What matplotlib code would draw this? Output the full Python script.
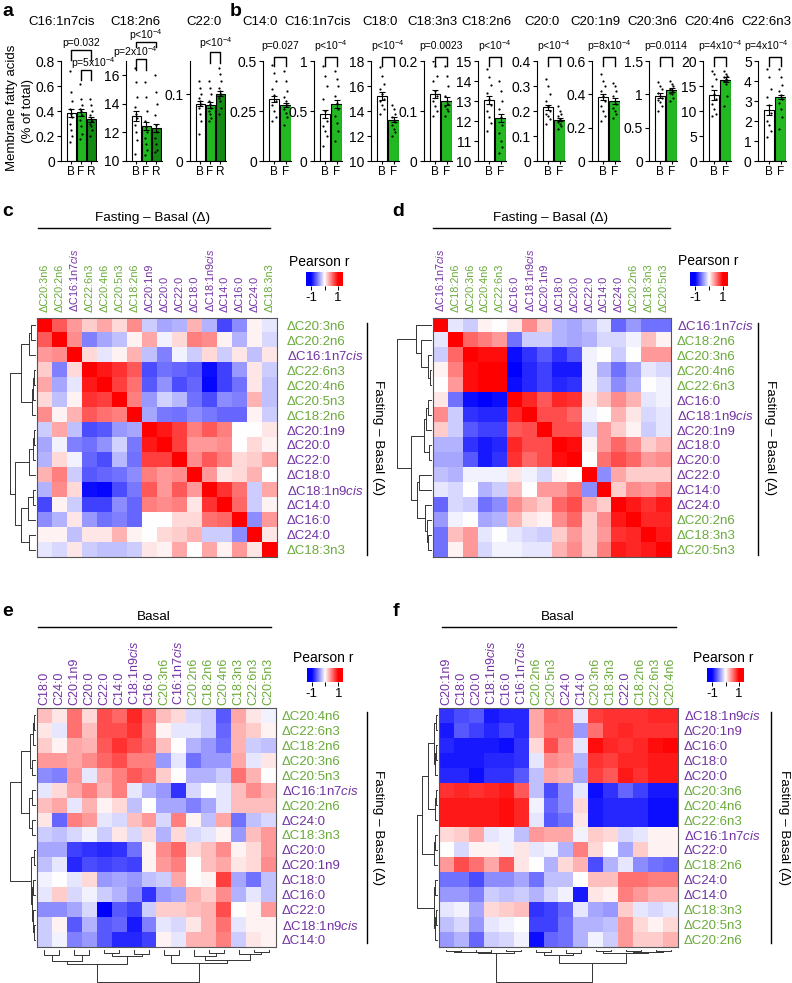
import numpy as np
import matplotlib
matplotlib.use('Agg')
import matplotlib.pyplot as plt
import matplotlib.transforms as mtransforms
from matplotlib.colors import LinearSegmentedColormap

plt.rcParams['font.family'] = ['Liberation Sans', 'DejaVu Sans']
plt.rcParams['mathtext.fontset'] = 'custom'
plt.rcParams['mathtext.rm'] = 'Liberation Sans'
plt.rcParams['mathtext.it'] = 'Liberation Sans:italic'
plt.rcParams['mathtext.bf'] = 'Liberation Sans:bold'

# ---------------- data: panel a (B, F, R) ----------------
a_names = ['C16:1n7cis', 'C18:2n6', 'C22:0']
a_means = [[0.385, 0.39, 0.335], [13.15, 12.45, 12.3], [0.086, 0.084, 0.101]]
a_sems = [[0.03, 0.03, 0.02], [0.35, 0.3, 0.3], [0.004, 0.004, 0.004]]
a_pts = [
    [[0.72, 0.55, 0.48, 0.42, 0.38, 0.35, 0.3, 0.25, 0.2, 0.15],
     [0.62, 0.5, 0.45, 0.42, 0.4, 0.37, 0.33, 0.28, 0.22, 0.18],
     [0.5, 0.45, 0.4, 0.37, 0.34, 0.32, 0.3, 0.28, 0.25, 0.2]],
    [[16.5, 15.5, 14.5, 13.8, 13.3, 13.0, 12.5, 12.0, 11.5, 10.5],
     [15.5, 14.5, 13.5, 12.8, 12.4, 12.0, 11.6, 11.2, 10.8, 10.4],
     [16.0, 14.8, 14.0, 13.2, 12.5, 12.0, 11.6, 11.2, 10.8, 10.6]],
    [[0.12, 0.11, 0.1, 0.095, 0.09, 0.085, 0.08, 0.07, 0.06, 0.04],
     [0.12, 0.11, 0.1, 0.09, 0.085, 0.08, 0.075, 0.07, 0.065, 0.06],
     [0.14, 0.13, 0.12, 0.11, 0.105, 0.1, 0.095, 0.09, 0.08, 0.07]],
]
a_ylims = [(0, 0.8), (10, 17), (0, 0.15)]
a_yticks = [[0, 0.2, 0.4, 0.6, 0.8], [10, 12, 14, 16], [0, 0.1]]
a_yticklabels = [['0', '0.2', '0.4', '0.6', '0.8'], ['10', '12', '14', '16'], ['0', '0.1']]

# ---------------- data: panel b (B, F) ----------------
b_names = ['C14:0', 'C16:1n7cis', 'C18:0', 'C18:3n3', 'C18:2n6',
           'C20:0', 'C20:1n9', 'C20:3n6', 'C20:4n6', 'C22:6n3']
b_means = [[0.31, 0.28], [0.47, 0.57], [15.2, 13.3], [0.135, 0.12], [13.05, 12.15],
           [0.215, 0.165], [0.385, 0.36], [0.98, 1.06], [13.2, 16.3], [2.55, 3.2]]
b_sems = [[0.015, 0.012], [0.04, 0.04], [0.3, 0.2], [0.008, 0.008], [0.2, 0.2],
          [0.01, 0.006], [0.02, 0.02], [0.04, 0.03], [1.0, 0.5], [0.25, 0.12]]
b_pts = [
    [[0.48, 0.44, 0.4, 0.36, 0.33, 0.3, 0.28, 0.25, 0.22, 0.2],
     [0.45, 0.4, 0.35, 0.32, 0.3, 0.28, 0.26, 0.24, 0.22, 0.18]],
    [[0.95, 0.85, 0.75, 0.62, 0.5, 0.4, 0.35, 0.3, 0.25, 0.15],
     [0.9, 0.82, 0.75, 0.65, 0.58, 0.52, 0.45, 0.38, 0.3, 0.2]],
    [[17.5, 16.8, 16.2, 15.8, 15.4, 15.0, 14.8, 14.5, 14.2, 13.8],
     [14.5, 14.2, 13.8, 13.5, 13.3, 13.1, 12.9, 12.6, 12.3, 12.0]],
    [[0.2, 0.19, 0.17, 0.16, 0.14, 0.13, 0.12, 0.11, 0.1, 0.09],
     [0.19, 0.17, 0.15, 0.13, 0.12, 0.115, 0.11, 0.105, 0.1, 0.09]],
    [[14.6, 14.2, 13.8, 13.4, 13.1, 12.8, 12.5, 12.2, 11.9, 11.5],
     [14.0, 13.5, 13.0, 12.6, 12.2, 11.8, 11.4, 11.0, 10.7, 10.4]],
    [[0.33, 0.3, 0.27, 0.24, 0.22, 0.2, 0.19, 0.18, 0.17, 0.15],
     [0.22, 0.2, 0.19, 0.18, 0.17, 0.16, 0.155, 0.15, 0.14, 0.13]],
    [[0.52, 0.48, 0.45, 0.42, 0.39, 0.36, 0.33, 0.3, 0.27, 0.24],
     [0.47, 0.45, 0.42, 0.39, 0.36, 0.34, 0.32, 0.3, 0.28, 0.26]],
    [[1.18, 1.12, 1.08, 1.02, 0.98, 0.95, 0.92, 0.88, 0.82, 0.75],
     [1.2, 1.15, 1.12, 1.08, 1.06, 1.04, 1.02, 1.0, 0.95, 0.9]],
    [[18, 17.5, 16.5, 15, 13.5, 12.5, 11.5, 10.5, 9.5, 9],
     [18, 17.5, 17, 16.8, 16.5, 16.2, 16, 15.5, 13, 11]],
    [[4.6, 4.2, 3.6, 3.2, 2.8, 2.4, 2.0, 1.8, 1.5, 1.2],
     [4.6, 4.2, 3.8, 3.5, 3.3, 3.1, 2.9, 2.6, 2.2, 1.6]],
]
b_ylims = [(0, 0.5), (0, 1), (10, 18), (0, 0.2), (10, 15), (0, 0.4), (0, 0.6), (0, 1.5), (0, 20), (0, 5)]
b_yticks = [[0, 0.25, 0.5], [0, 0.5, 1], [10, 12, 14, 16, 18], [0, 0.1, 0.2], [10, 11, 12, 13, 14, 15],
            [0, 0.1, 0.2, 0.3, 0.4], [0, 0.2, 0.4, 0.6], [0, 0.5, 1, 1.5], [0, 5, 10, 15, 20], [0, 1, 2, 3, 4, 5]]
b_pvals = ['p=0.027', r'p<10$^{-4}$', r'p<10$^{-4}$', 'p=0.0023', r'p<10$^{-4}$',
           r'p<10$^{-4}$', r'p=8x10$^{-4}$', 'p=0.0114', r'p=4x10$^{-4}$', r'p=4x10$^{-4}$']

# ---------------- data: correlation heatmaps ----------------
c_order = ['C20:3n6', 'C20:2n6', 'C16:1n7cis', 'C22:6n3', 'C20:4n6', 'C20:5n3', 'C18:2n6', 'C20:1n9',
           'C20:0', 'C22:0', 'C18:0', 'C18:1n9cis', 'C14:0', 'C16:0', 'C24:0', 'C18:3n3']
c_vals = [
    [1, 0.65, 0.4, 0.2, 0.35, 0.15, 0.45, -0.2, -0.35, -0.3, 0.3, -0.3, -0.72, -0.45, 0.05, -0.1],
    [0.65, 1, 0.45, -0.5, -0.35, -0.25, 0.05, 0.35, -0.05, 0.15, 0.5, 0.45, 0.05, -0.3, 0.05, -0.15],
    [0.4, 0.45, 1, 0.15, -0.1, 0.05, 0.3, -0.25, -0.5, -0.05, -0.2, 0.15, -0.2, 0.1, -0.25, 0.1],
    [0.2, -0.5, 0.15, 1, 0.9, 0.8, 0.65, -0.7, -0.5, -0.6, -0.65, -0.95, -0.75, -0.4, 0.1, -0.2],
    [0.35, -0.35, -0.1, 0.9, 1, 0.75, 0.55, -0.65, -0.4, -0.7, -0.6, -1.0, -0.75, -0.55, 0.1, -0.25],
    [0.15, -0.25, 0.05, 0.8, 0.75, 1, 0.5, -0.4, -0.2, -0.25, -0.55, -0.7, -0.45, -0.5, 0.3, -0.25],
    [0.45, 0.05, 0.3, 0.65, 0.55, 0.5, 1, -0.35, -0.5, -0.5, -0.45, -0.5, -0.6, -0.6, 0.05, -0.2],
    [-0.2, 0.35, -0.25, -0.7, -0.65, -0.4, -0.35, 1, 0.9, 0.75, 0.5, 0.65, 0.5, 0.0, 0.0, 0.1],
    [-0.35, -0.05, -0.5, -0.6, -0.45, -0.15, -0.55, 0.9, 1, 0.75, 0.4, 0.4, 0.45, 0.0, 0.15, 0.05],
    [-0.3, 0.15, -0.05, -0.6, -0.7, -0.3, -0.6, 0.75, 0.75, 1, 0.45, 0.65, 0.5, 0.15, 0.2, 0.35],
    [0.3, 0.5, -0.2, -0.65, -0.6, -0.55, -0.45, 0.5, 0.4, 0.45, 1, 0.4, 0.1, 0.15, 0.3, 0.0],
    [-0.3, 0.45, 0.15, -0.95, -0.95, -0.7, -0.55, 0.65, 0.4, 0.65, 0.4, 1, 0.8, 0.55, -0.2, 0.35],
    [-0.72, 0.05, -0.2, -0.75, -0.75, -0.45, -0.6, 0.5, 0.45, 0.5, 0.1, 0.8, 1, 0.6, -0.2, 0.05],
    [-0.45, -0.3, 0.1, -0.4, -0.55, -0.5, -0.6, 0.0, 0.0, 0.15, 0.15, 0.55, 0.6, 1, -0.45, 0.4],
    [0.05, 0.05, -0.25, 0.1, 0.1, 0.3, 0.05, 0.0, 0.15, 0.2, 0.3, -0.2, -0.2, -0.45, 1, 0.1],
    [-0.1, -0.15, 0.1, -0.2, -0.25, -0.25, -0.2, 0.1, 0.05, 0.35, 0.0, 0.35, 0.05, 0.4, 0.1, 1],
]

d_order = ['C16:1n7cis', 'C18:2n6', 'C20:3n6', 'C20:4n6', 'C22:6n3', 'C16:0', 'C18:1n9cis', 'C20:1n9',
           'C18:0', 'C20:0', 'C22:0', 'C14:0', 'C24:0', 'C20:2n6', 'C18:3n3', 'C20:5n3']
d_vals = [
    [1, -0.1, -0.2, 0.05, 0.0, 0.1, 0.45, 0.2, -0.3, -0.35, -0.25, -0.1, -0.6, -0.4, -0.55, -0.55],
    [-0.1, 1, 0.6, 0.5, 0.4, -0.55, -0.2, -0.2, -0.3, -0.35, -0.3, -0.15, -0.15, -0.05, 0.25, 0.05],
    [-0.2, 0.6, 1, 0.95, 0.95, -0.95, -0.8, -0.65, -0.8, -0.65, -0.05, 0.0, -0.2, 0.0, 0.4, 0.4],
    [0.05, 0.5, 0.95, 1, 1, -1, -0.85, -0.75, -0.9, -0.9, -0.05, -0.3, -0.55, -0.35, -0.1, -0.15],
    [0.0, 0.4, 0.95, 1, 1, -0.95, -0.85, -0.75, -0.85, -0.8, -0.05, -0.2, -0.45, -0.3, 0.0, -0.05],
    [0.1, -0.55, -0.95, -1, -0.95, 1, 0.85, 0.65, 0.85, 0.8, 0.1, 0.25, 0.45, 0.3, -0.1, -0.05],
    [0.45, -0.2, -0.8, -0.85, -0.85, 0.85, 1, 0.7, 0.7, 0.6, -0.05, 0.0, 0.3, 0.1, -0.15, -0.1],
    [0.2, -0.2, -0.65, -0.75, -0.75, 0.65, 0.7, 1, 0.7, 0.7, -0.15, 0.4, 0.2, 0.05, -0.2, -0.1],
    [-0.3, -0.3, -0.8, -0.9, -0.85, 0.85, 0.7, 0.7, 1, 0.95, 0.05, 0.4, 0.6, 0.45, 0.2, 0.3],
    [-0.35, -0.35, -0.65, -0.9, -0.8, 0.8, 0.6, 0.7, 0.95, 1, 0.0, 0.55, 0.7, 0.6, 0.4, 0.45],
    [-0.25, -0.3, -0.05, -0.05, -0.05, 0.1, -0.05, -0.15, 0.05, 0.0, 1, -0.45, 0.35, 0.2, 0.2, 0.2],
    [-0.1, -0.15, 0.0, -0.3, -0.2, 0.25, 0.0, 0.4, 0.4, 0.55, -0.45, 1, 0.2, 0.45, 0.4, 0.5],
    [-0.6, -0.15, -0.2, -0.55, -0.45, 0.45, 0.3, 0.2, 0.6, 0.7, 0.35, 0.2, 1, 0.9, 0.8, 0.9],
    [-0.4, -0.05, 0.0, -0.35, -0.3, 0.3, 0.1, 0.05, 0.45, 0.6, 0.2, 0.45, 0.9, 1, 0.85, 0.85],
    [-0.55, 0.25, 0.4, -0.1, 0.0, -0.1, -0.15, -0.2, 0.2, 0.4, 0.2, 0.4, 0.8, 0.85, 1, 0.9],
    [-0.55, 0.05, 0.4, -0.15, -0.05, -0.05, -0.1, -0.1, 0.3, 0.45, 0.2, 0.5, 0.9, 0.85, 0.9, 1],
]

e_rows = ['C20:4n6', 'C22:6n3', 'C18:2n6', 'C20:3n6', 'C20:5n3', 'C16:1n7cis', 'C20:2n6', 'C24:0',
          'C18:3n3', 'C20:0', 'C20:1n9', 'C18:0', 'C16:0', 'C22:0', 'C18:1n9cis', 'C14:0']
e_cols = ['C18:0', 'C24:0', 'C20:1n9', 'C20:0', 'C22:0', 'C14:0', 'C18:1n9cis', 'C16:0',
          'C20:3n6', 'C16:1n7cis', 'C20:2n6', 'C18:2n6', 'C20:4n6', 'C18:3n3', 'C22:6n3', 'C20:5n3']
e_vals = [
    [0.25, 0.1, 0.55, 0.15, 0.7, 0.6, 0.85, 0.6, 0.25, 0.15, -0.15, -0.2, -0.65, 0.35, 0.1, -0.05],
    [0.1, -0.1, 0.55, 0.25, 0.7, 0.7, 0.8, 0.55, 0.05, -0.1, -0.1, -0.2, -0.6, 0.3, 0.2, 0.05],
    [0.2, 0.05, 0.35, 0.3, 0.65, 0.8, 0.7, 0.6, 0.25, 0.0, -0.3, -0.4, -0.55, 0.3, -0.2, -0.25],
    [0.4, 0.4, 0.35, 0.45, 0.6, 0.7, 0.5, 0.5, -0.4, -0.1, -0.55, -0.4, -0.4, 0.35, -0.1, 0.1],
    [-0.45, -0.5, 0.4, -0.1, 0.35, 0.5, 0.65, 0.55, 0.2, 0.0, -0.3, -0.3, -0.2, 0.55, 0.3, 0.0],
    [-0.1, 0.15, 0.35, 0.5, 0.3, 0.5, -0.1, -0.3, -0.4, -0.8, -0.15, 0.0, -0.1, 0.25, 0.45, 0.3],
    [0.25, 0.35, -0.1, 0.3, 0.05, 0.15, -0.25, 0.0, -0.35, -0.35, -0.5, -0.35, -0.1, 0.25, 0.25, 0.25],
    [0.1, -0.6, 0.5, 0.4, -0.1, -0.15, 0.25, 0.4, -0.15, 0.5, 0.05, -0.25, 0.35, -0.55, -0.25, -0.15],
    [-0.2, -0.25, -0.15, -0.05, -0.2, 0.1, -0.15, 0.15, -0.3, 0.15, -0.15, -0.1, 0.05, -0.4, 0.25, 0.4],
    [-0.35, -0.35, -0.75, -0.8, -0.85, -0.8, -0.55, 0.05, 0.45, 0.6, 0.15, 0.25, 0.45, 0.05, 0.15, 0.4],
    [-0.25, -0.1, -0.85, -0.7, -0.75, -0.7, -0.75, 0.05, 0.4, 0.5, 0.0, 0.25, 0.35, 0.1, 0.15, 0.45],
    [-0.05, 0.0, -0.1, 0.15, -0.4, -0.35, -0.4, -0.25, -0.2, 0.35, 0.0, 0.05, 0.75, -0.35, -0.55, -0.25],
    [-0.1, 0.2, -0.15, -0.05, -0.2, -0.3, -0.45, -0.8, -0.4, -0.35, 0.3, 0.2, 0.45, -0.3, -0.1, -0.25],
    [-0.45, -0.45, -0.35, -0.15, -1.0, -0.65, -0.75, -0.2, 0.2, 0.2, 0.25, 0.3, 0.7, 0.0, 0.05, 0.4],
    [-0.2, 0.05, -0.65, -0.3, -0.65, -0.6, -0.9, -0.5, -0.1, -0.15, 0.1, 0.3, 0.55, -0.1, 0.05, 0.05],
    [-0.2, -0.05, -0.5, -0.4, -0.65, -0.85, -0.85, -0.75, 0.05, -0.1, 0.3, 0.3, 0.5, -0.2, 0.1, 0.05],
]

f_rows = ['C18:1n9cis', 'C20:1n9', 'C16:0', 'C18:0', 'C20:0', 'C20:3n6', 'C20:4n6', 'C22:6n3',
          'C16:1n7cis', 'C22:0', 'C18:2n6', 'C24:0', 'C14:0', 'C18:3n3', 'C20:5n3', 'C20:2n6']
f_cols = ['C20:1n9', 'C18:0', 'C20:0', 'C18:1n9cis', 'C16:0', 'C16:1n7cis', 'C20:2n6', 'C20:5n3',
          'C24:0', 'C14:0', 'C20:3n6', 'C18:3n3', 'C22:0', 'C18:2n6', 'C22:6n3', 'C20:4n6']
f_vals = [
    [-0.8, -0.7, -0.65, -0.9, -0.85, -0.85, 0.35, 0.6, 0.55, -0.1, 0.75, 0.8, 0.8, 0.8, 0.85, 0.85],
    [-0.9, -0.65, -0.75, -0.85, -0.75, -0.85, 0.35, 0.55, 0.55, -0.4, 0.55, 0.8, 0.85, 0.8, 0.8, 0.8],
    [-0.85, -0.9, -0.9, -0.9, -0.95, -0.8, 0.15, 0.7, 0.45, -0.1, 0.95, 0.85, 0.8, 0.85, 0.95, 0.98],
    [-0.9, -0.9, -0.9, -0.85, -0.85, -0.8, -0.1, 0.45, 0.4, -0.3, 0.8, 0.75, 0.85, 0.85, 0.9, 0.9],
    [-0.85, -0.85, -0.95, -0.8, -0.8, -0.65, -0.25, 0.35, 0.3, -0.35, 0.75, 0.65, 0.9, 0.8, 0.9, 0.9],
    [0.8, 0.85, 0.8, 0.85, 0.9, 0.65, -0.25, -0.7, -0.45, -0.1, -0.95, -0.8, -0.6, -0.75, -0.9, -0.9],
    [0.9, 0.9, 0.9, 0.9, 0.95, 0.85, -0.05, -0.6, -0.45, 0.15, -0.9, -0.85, -0.85, -0.85, -0.95, -0.95],
    [0.9, 0.9, 0.9, 0.9, 0.95, 0.85, -0.1, -0.65, -0.55, 0.1, -0.9, -0.85, -0.85, -0.85, -0.95, -0.95],
    [0.15, 0.2, 0.35, -0.1, -0.05, -0.25, 0.4, 0.35, 0.35, -0.05, 0.2, 0.15, -0.15, -0.1, 0.05, 0.05],
    [0.0, -0.15, 0.05, 0.05, -0.05, 0.1, -0.1, -0.05, -0.3, 0.5, 0.15, 0.0, -0.35, 0.2, 0.05, 0.05],
    [0.4, 0.7, 0.55, 0.35, 0.65, 0.1, 0.0, -0.3, 0.15, 0.3, -0.7, -0.3, -0.1, -0.45, -0.55, -0.6],
    [-0.55, -0.55, -0.7, -0.45, -0.45, -0.35, -0.55, -0.25, -0.25, 0.0, 0.25, 0.25, 0.55, 0.55, 0.5, 0.5],
    [-0.4, -0.4, -0.5, -0.2, -0.25, -0.2, -0.3, -0.15, -0.05, -0.9, 0.1, 0.05, 0.5, 0.4, 0.3, 0.3],
    [-0.1, -0.05, -0.35, 0.15, 0.2, 0.25, -0.8, -0.75, -0.6, -0.1, -0.35, -0.4, 0.2, -0.1, -0.15, -0.1],
    [-0.25, -0.15, -0.4, -0.1, -0.05, 0.0, -0.75, -0.75, -0.55, -0.3, -0.3, -0.25, 0.4, 0.15, 0.05, 0.15],
    [-0.4, -0.3, -0.6, -0.2, -0.15, -0.05, -0.95, -0.6, -0.55, -0.3, -0.05, -0.2, 0.4, 0.2, 0.2, 0.3],
]

# dendrogram trees: (left, right, height), leaves = display index
c_tree = ((((0, 1, .15), 2, .26), (((3, 4, .05), 5, .08), 6, .11), .55),
          ((((7, 8, .06), 9, .1), 10, .25), (((11, 12, .1), 13, .3), (14, 15, .26), .55), .8), 1.0)
d_tree = ((0, (1, (2, (3, 4, .03), .08), .3), .45),
          ((((5, 6, .1), 7, .15), (8, 9, .05), .22), ((10, 11, .35), (12, (13, (14, 15, .08), .12), .18), .4), .58), 1.0)
e_row_tree = (((((0, 1, .03), 2, .08), (3, 4, .12), .22), ((5, 6, .12), (7, 8, .12), .25), .55),
              ((9, 10, .05), ((11, 12, .08), (13, (14, 15, .05), .09), .12), .15), 1.0)
e_col_tree = ((((0, 1, .15), (2, 3, .15), .35), ((4, 5, .1), (6, 7, .12), .2), .45),
              ((8, 9, .15), ((10, (11, 12, .1), .2), (13, (14, 15, .05), .12), .3), .4), 1.0)
f_row_tree = (((((0, 1, .05), ((2, 3, .05), 4, .08), .15), ((5, 6, .05), 7, .08), .45), ((8, 9, .1), 10, .15), .77),
              ((11, 12, .1), ((13, 14, .05), 15, .08), .15), 1.0)
f_col_tree = (((((0, 1, .03), 2, .05), 3, .06), (4, 5, .04), .08),
              (((6, 7, .05), (8, 9, .1), .15), ((10, 11, .04), ((12, 13, .03), (14, 15, .02), .05), .1), .42), 1.0)

# ---------------- helpers ----------------
W, H = 792, 983
fig = plt.figure(figsize=(W / 100, H / 100), dpi=100)

GREEN_T = '#6aaa3a'
PURPLE_T = '#7232a3'
bar_cols = ['white', '#22b822', '#138a13']
cmap = LinearSegmentedColormap.from_list('bwr2', ['#0000ff', '#ffffff', '#ff0000'])


def rect(x0, y0, x1, y1):
    return [x0 / W, 1 - y1 / H, (x1 - x0) / W, (y1 - y0) / H]


def ftext(x, y, s, **kw):
    fig.text(x / W, 1 - y / H, s, **kw)


def fline(xs, ys, lw=1.0):
    fig.add_artist(plt.Line2D([x / W for x in xs], [1 - y / H for y in ys],
                              transform=fig.transFigure, color='black', lw=lw))


def bar_panel(left, width, means, sems, pts, ylim, yticks, yticklabels, xlabels, xlim):
    ax = fig.add_axes(rect(left, 61, left + width, 161))
    n = len(means)
    x = np.arange(n)
    ax.bar(x, means, width=0.9, color=bar_cols[:n], edgecolor='black', linewidth=0.8, zorder=1)
    for i in range(n):
        offs = (np.arange(len(pts[i])) % 3 - 1) * 0.14
        ax.scatter(x[i] + offs, pts[i], s=2.5, color='black', zorder=3, linewidths=0)
    ax.errorbar(x, means, yerr=sems, fmt='none', ecolor='black', elinewidth=0.8,
                capsize=2.5, capthick=0.8, zorder=4)
    ax.set_xlim(*xlim)
    ax.set_ylim(*ylim)
    ax.set_yticks(yticks)
    ax.set_yticklabels(yticklabels if yticklabels else [('%g' % t) for t in yticks], fontsize=10)
    ax.set_xticks(x)
    ax.set_xticklabels(xlabels, fontsize=8.5)
    ax.tick_params(axis='y', length=3, width=0.8, pad=1.5)
    ax.tick_params(axis='x', length=2, width=0.8, pad=1.5)
    for s in ['top', 'right']:
        ax.spines[s].set_visible(False)
    for s in ['left', 'bottom']:
        ax.spines[s].set_linewidth(0.8)
    return ax


def bracket(ax, i, j, ytop, yleg, text, ytext, xtext=None, fs=7.5):
    tr = mtransforms.blended_transform_factory(ax.transData, ax.transAxes)
    ax.plot([i, i, j, j], [yleg, ytop, ytop, yleg], color='black', lw=1.0,
            transform=tr, clip_on=False)
    ax.text((i + j) / 2 if xtext is None else xtext, ytext, text, transform=tr,
            ha='center', va='center', fontsize=fs)


def fmt(name, delta):
    s = name.replace('cis', r'$\mathit{cis}$')
    return ('Δ' + s) if delta else s


def tcolor(name):
    return GREEN_T if ('n3' in name or 'n6' in name) else PURPLE_T


def heatmap(box, M, rows, cols, col_delta, col_fs, col_pad, row_pad):
    ax = fig.add_axes(rect(*box))
    ax.imshow(np.array(M), cmap=cmap, vmin=-1, vmax=1, aspect='auto', interpolation='nearest')
    ax.set_xticks(range(len(cols)))
    ax.set_xticklabels([fmt(c, col_delta) for c in cols], rotation=90, fontsize=col_fs)
    ax.xaxis.tick_top()
    ax.set_yticks(range(len(rows)))
    ax.set_yticklabels([fmt(r, True) for r in rows], fontsize=9.5)
    ax.yaxis.tick_right()
    ax.tick_params(axis='x', length=0, pad=col_pad)
    ax.tick_params(axis='y', length=0, pad=row_pad)
    for lab, nm in zip(ax.get_xticklabels(), cols):
        lab.set_color(tcolor(nm))
    for lab, nm in zip(ax.get_yticklabels(), rows):
        lab.set_color(tcolor(nm))
    for s in ax.spines.values():
        s.set_linewidth(0.8)
        s.set_color('#555555')
    return ax


def draw_tree(ax, node, orient):
    if isinstance(node, int):
        return float(node), 0.0
    a, b, h = node
    pa, ha = draw_tree(ax, a, orient)
    pb, hb = draw_tree(ax, b, orient)
    if orient == 'left':
        ax.plot([ha, h, h, hb], [pa, pa, pb, pb], color='#333333', lw=0.7, clip_on=False)
    else:
        ax.plot([pa, pa, pb, pb], [ha, h, h, hb], color='#333333', lw=0.7, clip_on=False)
    return (pa + pb) / 2, h


def row_dendro(box, tree):
    ax = fig.add_axes(rect(*box))
    draw_tree(ax, tree, 'left')
    ax.set_xlim(1.0, 0.0)
    ax.set_ylim(15.5, -0.5)
    ax.axis('off')


def col_dendro(box, tree):
    ax = fig.add_axes(rect(*box))
    draw_tree(ax, tree, 'bottom')
    ax.set_xlim(-0.5, 15.5)
    ax.set_ylim(1.0, 0.0)
    ax.axis('off')


def colorbar(box, tx, ty):
    ax = fig.add_axes(rect(*box))
    grad = np.linspace(-1.36, 1.36, 256)[None, :]
    ax.imshow(grad, cmap=cmap, vmin=-1, vmax=1, aspect='auto', extent=(-1.36, 1.36, 0, 1))
    ax.set_xticks([-1, 0, 1])
    ax.set_xticklabels(['-1', '', '1'], fontsize=9.5)
    ax.set_yticks([])
    ax.tick_params(axis='x', length=3, width=0.7, pad=1)
    for s in ax.spines.values():
        s.set_visible(False)
    ftext(tx, ty, 'Pearson r', ha='center', va='center', fontsize=10)


# ---------------- panel a ----------------
a_left = [61, 126, 190]
a_axes = []
for k in range(3):
    ax = bar_panel(a_left[k], 36, a_means[k], a_sems[k], a_pts[k], a_ylims[k], a_yticks[k],
                   a_yticklabels[k], ['B', 'F', 'R'], (-1.0, 2.6))
    a_axes.append(ax)
ftext(62, 22, 'C16:1n7cis', ha='center', va='center', fontsize=9.5)
ftext(135, 22, 'C18:2n6', ha='center', va='center', fontsize=9.5)
ftext(204, 22, 'C22:0', ha='center', va='center', fontsize=9.5)
bracket(a_axes[0], 0, 2, 1.11, 1.01, 'p=0.032', 1.18)
bracket(a_axes[0], 1, 2, 0.91, 0.81, r'p=5x10$^{-4}$', 0.98, xtext=2.2)
bracket(a_axes[1], 0, 2, 1.19, 1.14, r'p<10$^{-4}$', 1.26, xtext=1.0)
bracket(a_axes[1], 0, 1, 1.02, 0.91, r'p=2x10$^{-4}$', 1.09, xtext=-0.1)
bracket(a_axes[2], 1, 2, 1.09, 0.98, r'p<10$^{-4}$', 1.18, xtext=1.6)
ftext(12, 108, 'Membrane fatty acids', rotation=90, ha='center', va='center', fontsize=9.5)
ftext(28, 111, '(% of total)', rotation=90, ha='center', va='center', fontsize=9.5)

# ---------------- panel b ----------------
b_left = [263, 314, 371, 424, 478, 537, 592, 649, 703, 758]
b_title_x = [260, 318, 380, 432, 486, 542, 595, 652, 709, 766]
b_ptext_x = [None] * 9 + [-0.2]
for k in range(10):
    ax = bar_panel(b_left[k], 28, b_means[k], b_sems[k], b_pts[k], b_ylims[k], b_yticks[k],
                   None, ['B', 'F'], (-0.94, 1.45))
    bracket(ax, 0, 1, 1.04, 0.95, b_pvals[k], 1.15, xtext=b_ptext_x[k])
    ftext(b_title_x[k], 22, b_names[k], ha='center', va='center', fontsize=9.5)

# ---------------- panel labels ----------------
for lab, x, y in [('a', 2, 12), ('b', 230, 12), ('c', 2, 212), ('d', 392, 212), ('e', 2, 612), ('f', 393, 612)]:
    ftext(x, y, lab, fontsize=14, fontweight='bold', va='center', ha='left')

# ---------------- heatmaps ----------------
Mc = np.array(c_vals)
Mc = (Mc + Mc.T) / 2
Md = np.array(d_vals)
Md = (Md + Md.T) / 2

heatmap((37, 318, 277, 557), Mc, c_order, c_order, True, 7.8, 4.3, 7)
heatmap((433, 318, 671, 557), Md, d_order, d_order, True, 7.8, 4.3, 4)
heatmap((37, 708, 276, 947), e_vals, e_rows, e_cols, False, 9, 2, 4)
heatmap((439, 708, 678, 947), f_vals, f_rows, f_cols, False, 9, 2, 4)

row_dendro((10, 318, 35, 557), c_tree)
row_dendro((397, 318, 431, 557), d_tree)
row_dendro((10, 708, 35, 947), e_row_tree)
row_dendro((417, 708, 437, 947), f_row_tree)
col_dendro((37, 950, 276, 982), e_col_tree)
col_dendro((439, 950, 678, 982), f_col_tree)

colorbar((306, 272, 343, 286), 319, 262)
colorbar((690, 272, 728, 286), 708, 261)
colorbar((307, 668, 343, 682), 323, 658)
colorbar((707, 668, 744, 682), 723, 658)

# headers and side labels
ftext(153, 218, 'Fasting – Basal (Δ)', ha='center', va='center', fontsize=9.7)
fline([38, 270], [228, 228])
ftext(551, 218, 'Fasting – Basal (Δ)', ha='center', va='center', fontsize=9.7)
fline([433, 670], [228, 228])
ftext(154, 617, 'Basal', ha='center', va='center', fontsize=9.7)
fline([38, 271], [627, 627])
ftext(558, 617, 'Basal', ha='center', va='center', fontsize=9.7)
fline([442, 676], [627, 627])

fline([367, 367], [323, 555])
ftext(378, 438, 'Fasting – Basal (Δ)', rotation=270, ha='center', va='center', fontsize=9.7)
fline([758, 758], [323, 555])
ftext(770, 438, 'Fasting – Basal (Δ)', rotation=270, ha='center', va='center', fontsize=9.7)
fline([367, 367], [712, 943])
ftext(378, 828, 'Fasting – Basal (Δ)', rotation=270, ha='center', va='center', fontsize=9.7)
fline([771, 771], [712, 943])
ftext(784, 828, 'Fasting – Basal (Δ)', rotation=270, ha='center', va='center', fontsize=9.7)

fig.savefig('out.png', dpi=100)
